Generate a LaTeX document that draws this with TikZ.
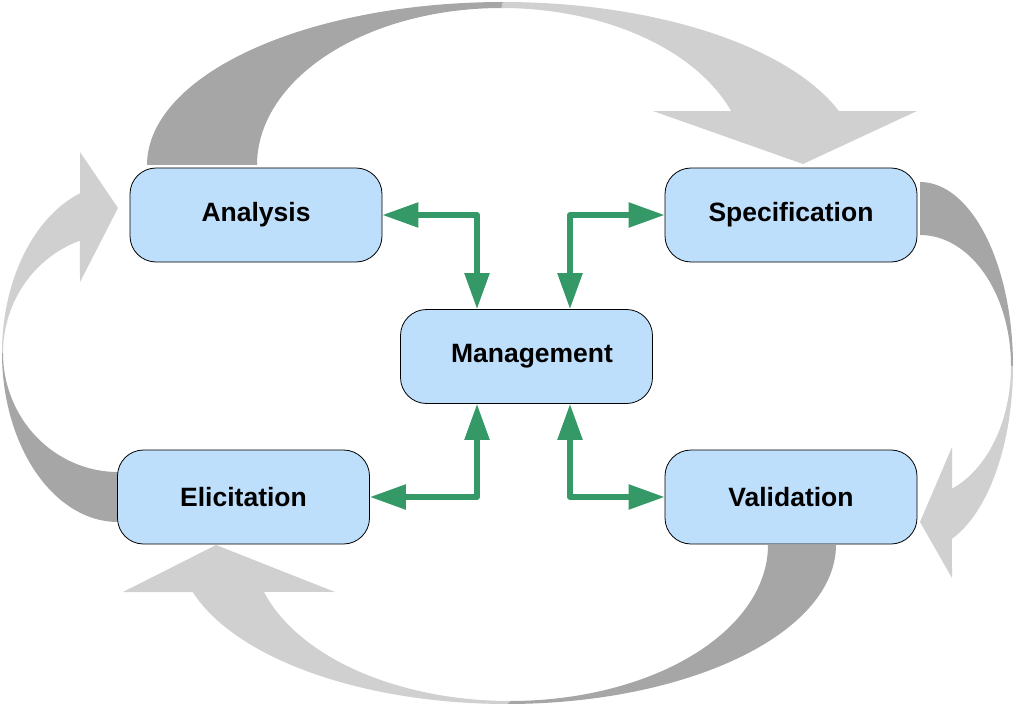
\documentclass[tikz,border=0pt]{standalone}
\usepackage{fontspec}
\setmainfont{Liberation Sans}
\usetikzlibrary{arrows.meta}
\definecolor{boxblue}{RGB}{190,223,251}
\definecolor{darkg}{RGB}{166,166,166}
\definecolor{lightg}{RGB}{208,208,208}
\definecolor{greenarr}{RGB}{52,153,102}
\tikzset{
  stagebox/.style={rectangle, rounded corners=26pt, draw=black, line width=0.8pt,
    fill=boxblue, minimum width=252pt, minimum height=94pt,
    font=\fontsize{26.5}{30}\selectfont\bfseries, inner sep=0pt},
  garrow/.style={draw=greenarr, line width=5.5pt, line join=round,
    {Triangle[length=36pt,width=24pt]}-{Triangle[length=36pt,width=24pt]}},
  arc/.style={samples=60, variable=\t}
}
\begin{document}
\begin{tikzpicture}[x=1pt,y=-1pt]
\useasboundingbox (0,0) rectangle (1015,706);
% top arrow
\fill[darkg] plot[arc,domain=-180:-90] ({503+356*cos(\t)},{165+163*sin(\t)})
  -- plot[arc,domain=-90:-180] ({501.5+244.5*cos(\t)},{165+157*sin(\t)}) -- cycle;
\fill[lightg] plot[arc,domain=-90:-19.3] ({503+356*cos(\t)},{165+163*sin(\t)})
  -- (917,111) -- (803,164) -- (653,111)
  -- plot[arc,domain=-20.1:-90] ({501.5+244.5*cos(\t)},{165+157*sin(\t)}) -- cycle;
% right arrow
\fill[darkg] plot[arc,domain=-90:0] ({920+93*cos(\t)},{366+184*sin(\t)})
  -- plot[arc,domain=0:-90] ({920+91*cos(\t)},{366+131*sin(\t)}) -- cycle;
\fill[lightg] plot[arc,domain=0:69.9] ({920+93*cos(\t)},{366+184*sin(\t)})
  -- (952,578) -- (920,522) -- (952,447)
  -- plot[arc,domain=69.4:0] ({920+91*cos(\t)},{366+131*sin(\t)}) -- cycle;
% bottom arrow
\fill[darkg] plot[arc,domain=0:90] ({507+329*cos(\t)},{545+159*sin(\t)})
  -- plot[arc,domain=90:0] ({510+258*cos(\t)},{545+156*sin(\t)}) -- cycle;
\fill[lightg] plot[arc,domain=90:162.8] ({507+329*cos(\t)},{545+159*sin(\t)})
  -- (123,592) -- (216,545) -- (335,592)
  -- plot[arc,domain=162.5:90] ({510+258*cos(\t)},{545+156*sin(\t)}) -- cycle;
% left arrow
\fill[darkg] plot[arc,domain=90:180] ({118+116*cos(\t)},{353+169*sin(\t)})
  -- plot[arc,domain=180:90] ({118+115*cos(\t)},{353+119*sin(\t)}) -- cycle;
\fill[lightg] plot[arc,domain=180:250.9] ({118+116*cos(\t)},{353+169*sin(\t)})
  -- (80,152) -- (118,208) -- (80,282)
  -- plot[arc,domain=250.7:180] ({118+115*cos(\t)},{353+119*sin(\t)}) -- cycle;
% boxes
\node[stagebox] (ana) at (256,215) {Analysis};
\node[stagebox] (spe) at (791,215) {Specification};
\node[stagebox] (man) at (526.5,356.5) {\hspace*{11pt}Management};
\node[stagebox] (eli) at (243.5,497) {Elicitation};
\node[stagebox] (val) at (791,497) {Validation};
% green connectors
\draw[garrow] (ana.east) -| ([xshift=-49.5pt]man.north);
\draw[garrow] (spe.west) -| ([xshift=43.5pt]man.north);
\draw[garrow] ([xshift=-49.5pt]man.south) |- (eli.east);
\draw[garrow] ([xshift=43.5pt]man.south) |- (val.west);
\end{tikzpicture}
\end{document}
